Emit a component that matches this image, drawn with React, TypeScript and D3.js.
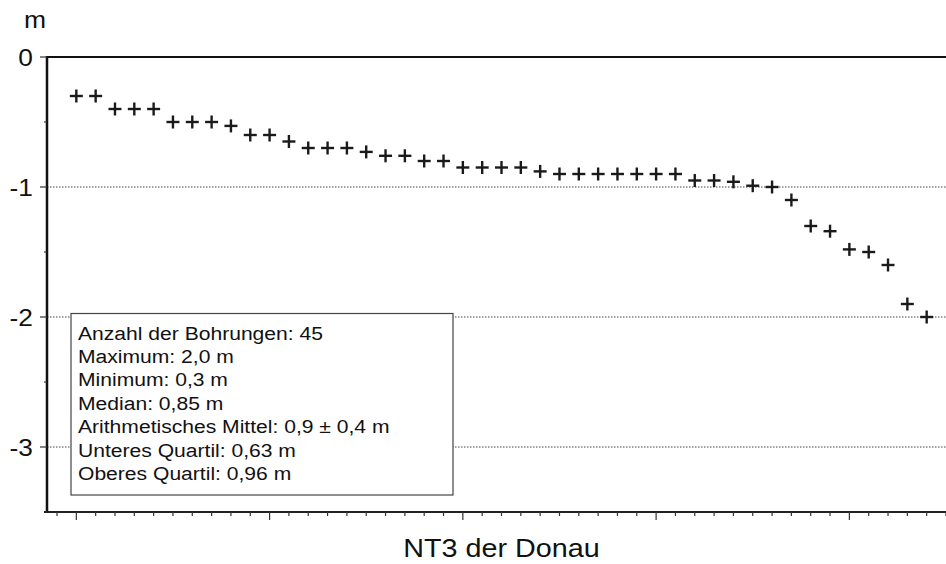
import React from "react";
import * as d3 from "d3";

const depths = [
  -0.3, -0.3, -0.4, -0.4, -0.4, -0.5, -0.5, -0.5, -0.53, -0.6,
  -0.6, -0.65, -0.7, -0.7, -0.7, -0.73, -0.76, -0.76, -0.8, -0.8,
  -0.85, -0.85, -0.85, -0.85, -0.88, -0.9, -0.9, -0.9, -0.9, -0.9,
  -0.9, -0.9, -0.95, -0.95, -0.96, -0.99, -1.0, -1.1, -1.3, -1.34,
  -1.48, -1.5, -1.6, -1.9, -2.0,
];
const yTicks = [0, -1, -2, -3];
const yMinorTicks = [-0.5, -1.5, -2.5];
const gridValues = [-1, -2, -3];
const statsLines = [
  "Anzahl der Bohrungen: 45",
  "Maximum: 2,0 m",
  "Minimum: 0,3 m",
  "Median: 0,85 m",
  "Arithmetisches Mittel: 0,9 ± 0,4 m",
  "Unteres Quartil: 0,63 m",
  "Oberes Quartil: 0,96 m",
];
const xLabel = "NT3 der Donau";
const yUnit = "m";

export default function App() {
  const W = 946, H = 564;
  const x = d3.scaleLinear().domain([0, 46]).range([57, 946]);
  const y = d3.scaleLinear().domain([0, -3.5]).range([57, 512]);
  const left = 47;
  const right = 946;
  const font = "'Liberation Sans', Arial, sans-serif";
  const xTicks = d3.range(0, 47);
  const pts = depths.map((d, i) => ({ i: i + 1, d }));
  const s = 6.5;
  const T = (px: number, py: number, k: number) => `translate(${px},${py}) scale(${k},1)`;
  return (
    <svg width={W} height={H} style={{ position: "absolute", left: 0, top: 0, background: "#fff" }}>
      <rect width={W} height={H} fill="#fff" />
      {gridValues.map((g) => (
        <line key={g} x1={left} x2={right} y1={y(g)} y2={y(g)} stroke="#444" strokeWidth={1} strokeDasharray="1.5,1.5" />
      ))}
      <line x1={left} x2={right} y1={y(0)} y2={y(0)} stroke="#111" strokeWidth={2} />
      <line x1={left} x2={left} y1={y(0) - 1} y2={y(-3.5)} stroke="#111" strokeWidth={2.5} />
      {yTicks.map((t) => (
        <g key={t}>
          <line x1={40} x2={left} y1={y(t)} y2={y(t)} stroke="#333" strokeWidth={1.2} />
          <text transform={T(33, y(t) + 8.5, 1.12)} textAnchor="end" fontFamily={font} fontSize={23.5} fill="#111">
            {t === 0 ? "0" : "-" + Math.abs(t)}
          </text>
        </g>
      ))}
      {yMinorTicks.map((t) => (
        <line key={t} x1={44} x2={left} y1={y(t)} y2={y(t)} stroke="#333" strokeWidth={1.2} />
      ))}
      <text transform={T(24, 28, 1.15)} fontFamily={font} fontSize={23} fill="#111">{yUnit}</text>
      <line x1={44} x2={right} y1={y(-3.5)} y2={y(-3.5)} stroke="#222" strokeWidth={2} />
      {xTicks.map((t) => {
        const major = (t - 1) % 10 === 0;
        return (
          <line key={t} x1={x(t)} x2={x(t)} y1={y(-3.5)} y2={y(-3.5) + (major ? 8 : 4)} stroke="#333" strokeWidth={1.2} />
        );
      })}
      <text transform={T(501.5, 557, 1.15)} textAnchor="middle" fontFamily={font} fontSize={25} fill="#111">{xLabel}</text>
      {pts.map((p) => (
        <g key={p.i} stroke="#1a1a1a" strokeWidth={2.4}>
          <line x1={x(p.i) - s} x2={x(p.i) + s} y1={y(p.d)} y2={y(p.d)} />
          <line x1={x(p.i)} x2={x(p.i)} y1={y(p.d) - s} y2={y(p.d) + s} />
        </g>
      ))}
      <rect x={71} y={313.5} width={382} height={181.5} fill="#fff" stroke="#444" strokeWidth={1.2} />
      {statsLines.map((l, k) => (
        <text key={k} transform={T(78, 339.5 + k * 23.4, 1.11)} fontFamily={font} fontSize={19} fill="#111">{l}</text>
      ))}
    </svg>
  );
}
